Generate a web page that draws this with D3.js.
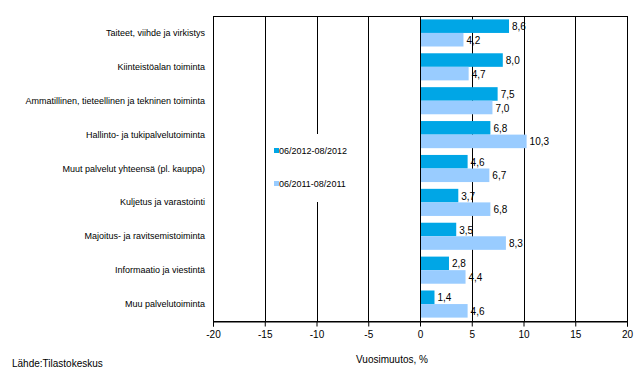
<!DOCTYPE html>
<html><head><meta charset="utf-8">
<script src="https://cdn.jsdelivr.net/npm/d3@7"></script>
<style>body{margin:0;background:#fff}svg{display:block}text{font-family:"Liberation Sans",Arial,sans-serif;fill:#000}</style>
</head><body><svg id="c" width="643" height="388"></svg>
<script>
const categories = ["Taiteet, viihde ja virkistys","Kiinteistöalan toiminta","Ammatillinen, tieteellinen ja tekninen toiminta","Hallinto- ja tukipalvelutoiminta","Muut palvelut yhteensä (pl. kauppa)","Kuljetus ja varastointi","Majoitus- ja ravitsemistoiminta","Informaatio ja viestintä","Muu palvelutoiminta"];
const series2012 = [8.6,8.0,7.5,6.8,4.6,3.7,3.5,2.8,1.4];
const series2011 = [4.2,4.7,7.0,10.3,6.7,6.8,8.3,4.4,4.6];
const seriesNames = ["06/2012-08/2012","06/2011-08/2011"];
const xTicks = [-20,-15,-10,-5,0,5,10,15,20];
const colors = ["#00A6E6","#99CCFF"];

const svg = d3.select("#c");
const L=213, R=627, T=16, B=321;
const x = d3.scaleLinear().domain([-20,20]).range([L,R]);
const y = d3.scaleBand().domain(categories).range([T,B]).paddingInner(0.2).paddingOuter(0.1);
const fmt = v => d3.format(".1f")(v).replace(".",",");

// gridlines
svg.append("g").selectAll("line").data(xTicks.filter(t=>t>-20&&t<20)).join("line")
  .attr("x1",d=>Math.round(x(d))+0.5).attr("x2",d=>Math.round(x(d))+0.5)
  .attr("y1",T).attr("y2",B).attr("stroke","#000").attr("stroke-width",1);

// bars
const bw = y.bandwidth()/2;
const g = svg.append("g");
[series2012, series2011].forEach((s,si)=>{
  g.selectAll(null).data(s).join("rect")
    .attr("x",d=>x(Math.min(0,d))+1).attr("width",d=>Math.abs(x(d)-x(0))-1)
    .attr("y",(d,i)=>y(categories[i])+si*bw).attr("height",bw)
    .attr("fill",colors[si]);
  g.selectAll(null).data(s).join("text")
    .attr("x",d=>x(d)+3).attr("y",(d,i)=>y(categories[i])+si*bw+bw/2+4)
    .attr("font-size",10).text(d=>fmt(d));
});

// frame
svg.append("rect").attr("x",L+0.5).attr("y",T+0.5).attr("width",R-L).attr("height",B-T)
  .attr("fill","none").attr("stroke","#000");

// x axis
const ax = svg.append("g").attr("transform",`translate(0,${B+0.5})`)
  .call(d3.axisBottom(x).tickValues(xTicks).tickSize(5).tickPadding(4).tickFormat(d=>d));
ax.select(".domain").attr("stroke","#000");
ax.selectAll("line").attr("stroke","#000");
ax.selectAll("text").attr("font-size",10).attr("font-family","Liberation Sans, Arial, sans-serif");

// category labels
svg.append("g").selectAll("text").data(categories).join("text")
  .attr("x",205).attr("y",d=>y(d)+y.bandwidth()/2+3)
  .attr("text-anchor","end").attr("font-size",9).text(d=>d);

// legend
const lg = svg.append("g");
lg.append("rect").attr("x",272).attr("y",134).attr("width",88).attr("height",68).attr("fill","#fff");
seriesNames.forEach((n,i)=>{
  const yy = 151 + i*33;
  lg.append("rect").attr("x",274).attr("y",yy-3).attr("width",5).attr("height",5).attr("fill",colors[i]);
  lg.append("text").attr("x",279).attr("y",yy+3).attr("font-size",9).text(n);
});

svg.append("text").attr("x",392).attr("y",363).attr("text-anchor","middle").attr("font-size",10).text("Vuosimuutos, %");
svg.append("text").attr("x",12).attr("y",367).attr("font-size",10).text("Lähde:Tilastokeskus");
</script></body></html>
